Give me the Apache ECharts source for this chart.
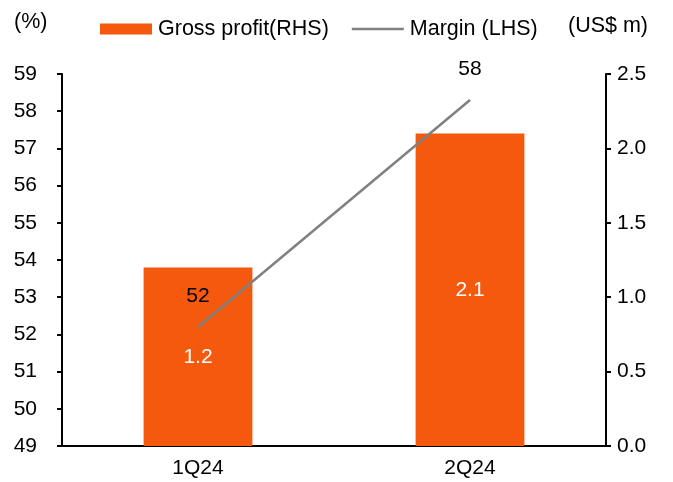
<!DOCTYPE html>
<html>
<head>
<meta charset="utf-8">
<script src="https://cdn.jsdelivr.net/npm/echarts@6/dist/echarts.min.js"></script>
<style>
  html, body { margin: 0; padding: 0; background: #fff; }
  #chart { width: 673px; height: 482px; }
</style>
</head>
<body>
<div id="chart"></div>
<script>
// data
const quarters = ['1Q24', '2Q24'];
const grossProfit = [1.2, 2.1];   // US$ m, right axis
const margin = [52.2, 58.3];      // %, left axis

const FONT = 'Liberation Sans, Arial, sans-serif';
const ORANGE = '#F4590E';
const GREY = '#808080';

const myChart = echarts.init(document.getElementById('chart'));

const option = {
  animation: false,
  textStyle: { fontFamily: FONT, fontSize: 21, color: '#000' },
  grid: { left: 62, right: 67, top: 74, bottom: 36 },
  legend: {
    top: 18,
    left: 100,
    padding: 0,
    itemWidth: 52,
    itemHeight: 11,
    itemGap: 23,
    textStyle: { fontFamily: FONT, fontSize: 21.5, color: '#000', padding: [0, 0, 0, 1] },
    data: [
      { name: 'Gross profit(RHS)', icon: 'rect' },
      // plain grey stroke, no marker
      { name: 'Margin (LHS)', icon: 'path://M0,0H52V2.5H0Z', itemStyle: { color: GREY } }
    ]
  },
  graphic: [
    { type: 'text', left: 14, top: 11, style: { text: '(%)', font: '21.5px ' + FONT, fill: '#000' } },
    { type: 'text', left: 568, top: 15, style: { text: '(US$ m)', font: '21.5px ' + FONT, fill: '#000' } }
  ],
  xAxis: {
    type: 'category',
    data: quarters,
    axisLine: { lineStyle: { color: '#000', width: 2 } },
    axisTick: { lineStyle: { color: '#000', width: 2 }, length: 5 },
    axisLabel: { color: '#000', fontSize: 21, fontFamily: FONT, margin: 12 }
  },
  yAxis: [
    {
      type: 'value',
      min: 49,
      max: 59,
      interval: 1,
      splitLine: { show: false },
      axisLine: { show: true, lineStyle: { color: '#000', width: 2 } },
      axisTick: { show: true, length: 5, lineStyle: { color: '#000', width: 2 } },
      axisLabel: { color: '#000', fontSize: 21, fontFamily: FONT, margin: 25 }
    },
    {
      type: 'value',
      min: 0,
      max: 2.5,
      interval: 0.5,
      position: 'right',
      splitLine: { show: false },
      axisLine: { show: true, lineStyle: { color: '#000', width: 2 } },
      axisTick: { show: true, length: 5, lineStyle: { color: '#000', width: 2 } },
      axisLabel: {
        color: '#000', fontSize: 21, fontFamily: FONT, margin: 11,
        formatter: v => v.toFixed(1)
      }
    }
  ],
  series: [
    {
      name: 'Gross profit(RHS)',
      type: 'bar',
      yAxisIndex: 1,
      barWidth: '40%',
      data: grossProfit,
      itemStyle: { color: ORANGE },
      label: {
        show: true,
        position: 'inside',
        color: '#fff',
        fontSize: 21,
        fontFamily: FONT,
        formatter: p => p.value.toFixed(1)
      }
    },
    {
      name: 'Margin (LHS)',
      type: 'line',
      yAxisIndex: 0,
      data: margin,
      symbol: 'none',
      lineStyle: { color: GREY, width: 2.5 },
      itemStyle: { color: GREY },
      z: 3
    },
    {
      // carries only the margin labels (line with no symbol draws no labels)
      name: 'marginLabels',
      type: 'scatter',
      yAxisIndex: 0,
      data: margin,
      symbolSize: 1,
      itemStyle: { color: 'transparent' },
      silent: true,
      label: {
        show: true,
        position: 'top',
        distance: 20,
        color: '#000',
        opacity: 1,
        fontSize: 21,
        fontFamily: FONT,
        formatter: p => Math.round(p.value)
      },
      z: 4
    }
  ]
};

myChart.setOption(option);
</script>
</body>
</html>
